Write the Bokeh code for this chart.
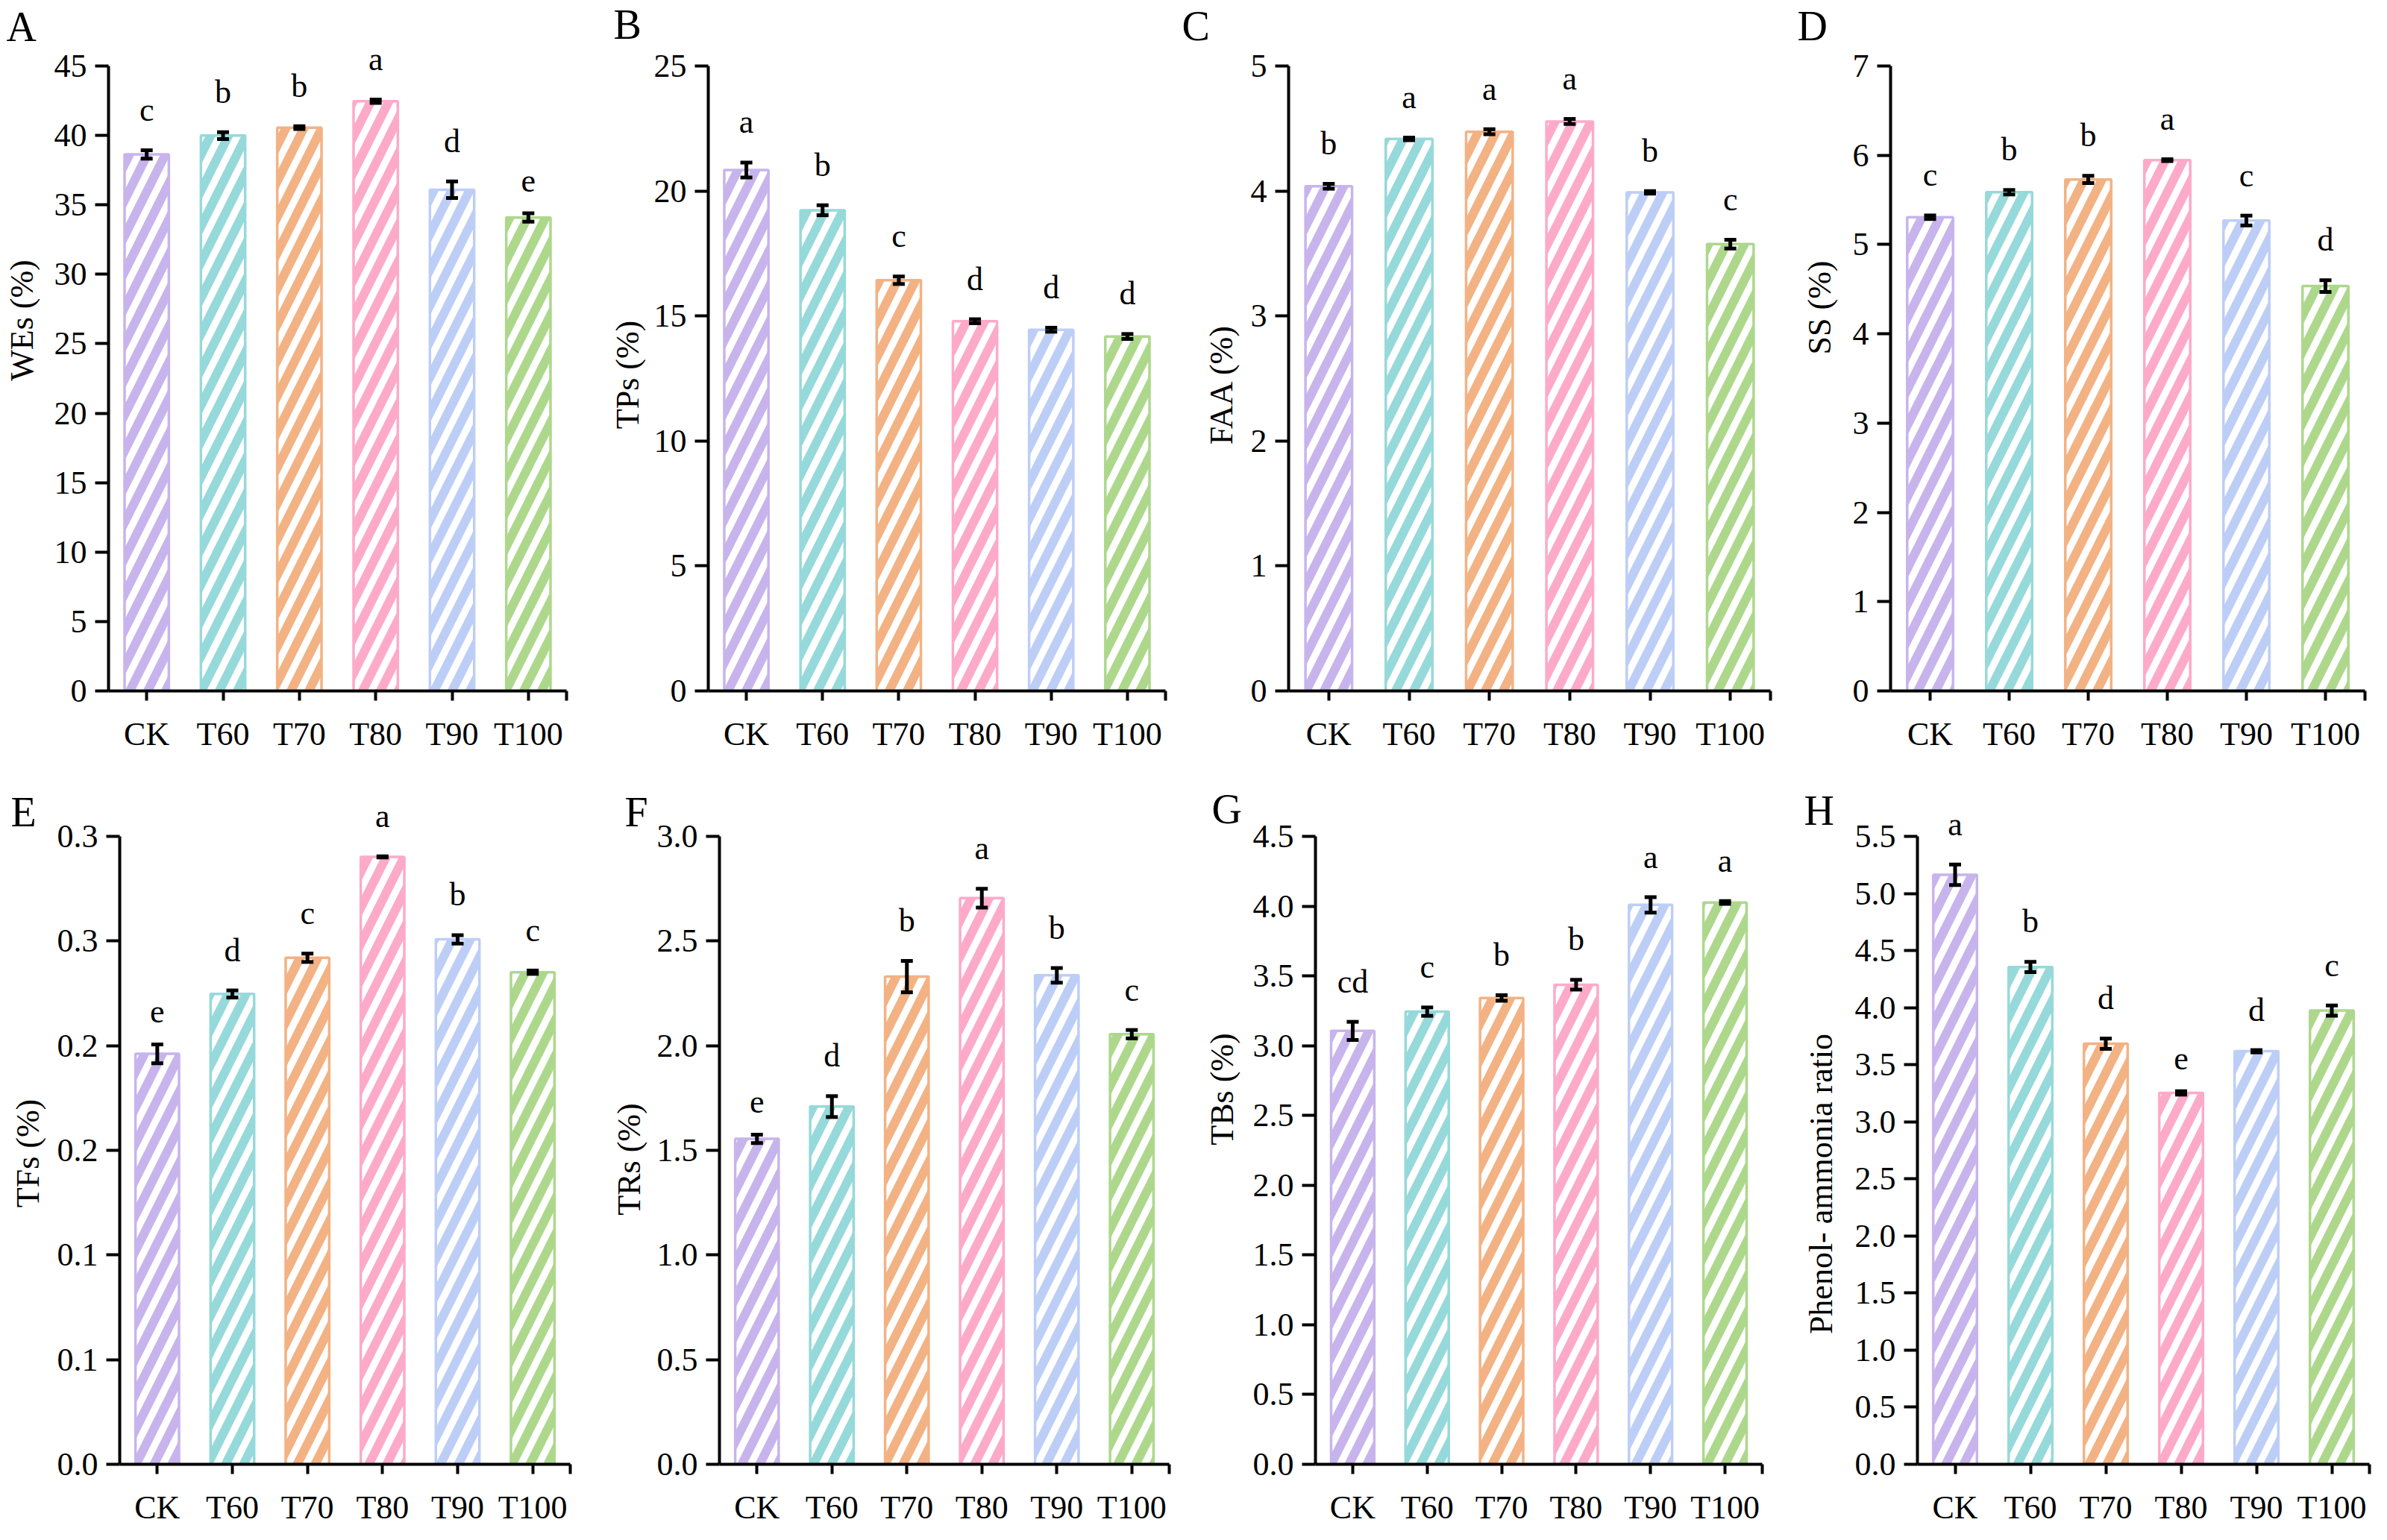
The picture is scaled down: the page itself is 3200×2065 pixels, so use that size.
import math
from bokeh.plotting import figure
from bokeh.layouts import row, column
from bokeh.models import Range1d, FixedTicker, NumeralTickFormatter, ColumnDataSource
from bokeh.embed import file_html
from bokeh.resources import INLINE
from bokeh.core.properties import value

FONT = "Liberation Serif"

# ---------------- data ----------------
categories = ["CK", "T60", "T70", "T80", "T90", "T100"]
colors = ["#C8B4EC", "#96D9DA", "#F3B283", "#FDAAC8", "#BDCEF6", "#ADD88C"]

WEs = [38.63, 39.99, 40.56, 42.46, 36.09, 34.09]
WEs_se = [0.30, 0.25, 0.10, 0.12, 0.60, 0.30]
WEs_sig = ["c", "b", "b", "a", "d", "e"]

TPs = [20.84, 19.23, 16.43, 14.79, 14.45, 14.18]
TPs_se = [0.30, 0.20, 0.15, 0.08, 0.08, 0.10]
TPs_sig = ["a", "b", "c", "d", "d", "d"]

FAA = [4.038, 4.417, 4.474, 4.556, 3.989, 3.575]
FAA_se = [0.020, 0.010, 0.020, 0.020, 0.010, 0.035]
FAA_sig = ["b", "a", "a", "a", "b", "c"]

SS = [5.306, 5.586, 5.729, 5.945, 5.269, 4.535]
SS_se = [0.020, 0.025, 0.040, 0.010, 0.055, 0.065]
SS_sig = ["c", "b", "b", "a", "c", "d"]

TFs = [0.1961, 0.2247, 0.2420, 0.2902, 0.2508, 0.2351]
TFs_se = [0.0045, 0.0017, 0.0020, 0.0003, 0.0020, 0.0008]
TFs_sig = ["e", "d", "c", "a", "b", "c"]

TRs = [1.555, 1.709, 2.330, 2.705, 2.336, 2.055]
TRs_se = [0.020, 0.050, 0.075, 0.045, 0.035, 0.020]
TRs_sig = ["e", "d", "b", "a", "b", "c"]

TBs = [3.106, 3.244, 3.342, 3.437, 4.009, 4.026]
TBs_se = [0.065, 0.030, 0.020, 0.035, 0.055, 0.010]
TBs_sig = ["cd", "c", "b", "b", "a", "a"]

PA = [5.164, 4.356, 3.684, 3.253, 3.618, 3.974]
PA_se = [0.090, 0.045, 0.045, 0.015, 0.010, 0.045]
PA_sig = ["a", "b", "d", "e", "d", "c"]

WEs_ticks = [0, 5, 10, 15, 20, 25, 30, 35, 40, 45]
TPs_ticks = [0, 5, 10, 15, 20, 25]
FAA_ticks = [0, 1, 2, 3, 4, 5]
SS_ticks = [0, 1, 2, 3, 4, 5, 6, 7]
TFs_ticks = [0, 0.05, 0.10, 0.15, 0.20, 0.25, 0.30]
TFs_tick_labels = ["0.0", "0.1", "0.1", "0.2", "0.2", "0.3", "0.3"]
TRs_ticks = [0, 0.5, 1.0, 1.5, 2.0, 2.5, 3.0]
TBs_ticks = [0, 0.5, 1.0, 1.5, 2.0, 2.5, 3.0, 3.5, 4.0, 4.5]
PA_ticks = [0, 0.5, 1.0, 1.5, 2.0, 2.5, 3.0, 3.5, 4.0, 4.5, 5.0, 5.5]

panels = [
    ("A", "WEs (%)", WEs, WEs_se, WEs_sig, WEs_ticks, None, "0"),
    ("B", "TPs (%)", TPs, TPs_se, TPs_sig, TPs_ticks, None, "0"),
    ("C", "FAA (%)", FAA, FAA_se, FAA_sig, FAA_ticks, None, "0"),
    ("D", "SS (%)", SS, SS_se, SS_sig, SS_ticks, None, "0"),
    ("E", "TFs (%)", TFs, TFs_se, TFs_sig, TFs_ticks, TFs_tick_labels, None),
    ("F", "TRs (%)", TRs, TRs_se, TRs_sig, TRs_ticks, None, "0.0"),
    ("G", "TBs (%)", TBs, TBs_se, TBs_sig, TBs_ticks, None, "0.0"),
    ("H", "Phenol- ammonia ratio", PA, PA_se, PA_sig, PA_ticks, None, "0.0"),
]

# ---------------- layout (pixels) ----------------
# width, height, border left, right, top, bottom,
# letter baseline (x, y) and y-label centre (x, y), both relative to frame bottom-left (y up)
geom = [
    (802, 1054, 145, 43, 79, 128, (-137, 872), (-116, 497)),
    (775, 1054, 147, 15, 88, 123, (-127, 875), (-108, 424)),
    (820, 1054, 150, 24, 79, 126, (-143, 873), (-90, 411)),
    (787, 1054, 137, 14, 81, 127, (-125, 873), (-95, 514)),
    (812, 995, 160, 48, 67, 84, (-146, 856), (-123, 417)),
    (790, 995, 152, 35, 67, 86, (-127, 856), (-121, 409)),
    (800, 995, 161, 40, 67, 80, (-139, 860), (-125, 503)),
    (782, 995, 168, 8, 67, 82, (-152, 858), (-129, 376)),
]

FS = 44
LFS = 56
DESC = 0.216  # font descent in em


def make_panel(spec, g):
    letter, ylabel, vals, se, sig, ticks, tick_labels, fmt = spec
    W, H, bl, br, bt, bb, lpos, ypos = g
    n = len(categories)
    ymax = ticks[-1]
    xs = [i + 0.5 for i in range(n)]
    p = figure(width=W, height=H, output_backend="svg", toolbar_location=None,
               x_range=Range1d(0, n), y_range=Range1d(0, ymax),
               min_border_left=bl, min_border_right=br, min_border_top=bt, min_border_bottom=bb,
               tools="")
    p.outline_line_color = None
    p.grid.visible = False
    p.background_fill_color = "white"
    p.border_fill_color = "white"

    src = ColumnDataSource(dict(x=xs, top=vals, color=colors,
                                lo=[v - s for v, s in zip(vals, se)],
                                hi=[v + s for v, s in zip(vals, se)],
                                sig=sig))
    p.vbar(x="x", top="top", bottom=0, width=0.58, source=src,
           fill_color="white", line_color="color", line_width=3.5,
           hatch_pattern="/", hatch_color="color", hatch_scale=48, hatch_weight=12)
    p.segment(x0="x", y0="lo", x1="x", y1="hi", source=src, line_color="black", line_width=5)
    p.scatter(x="x", y="lo", source=src, marker="dash", size=16, line_color="black", line_width=5)
    p.scatter(x="x", y="hi", source=src, marker="dash", size=16, line_color="black", line_width=5)
    t = p.text(x="x", y="hi", text="sig", source=src, text_align="center", text_baseline="bottom",
               y_offset=-(20 + DESC * FS), text_font=value(FONT), text_font_size=f"{FS}px",
               text_color="black")
    t.level = "overlay"

    # panel letter and y label, anchored at the frame corner with pixel offsets
    lt = p.text(x=[0], y=[0], text=[letter], x_offset=lpos[0], y_offset=-(lpos[1] - DESC * LFS),
                text_align="left", text_baseline="bottom", text_font=value(FONT),
                text_font_size=f"{LFS}px", text_color="black")
    lt.level = "overlay"
    yl = p.text(x=[0], y=[0], text=[ylabel], x_offset=ypos[0], y_offset=-ypos[1], angle=math.pi / 2,
                text_align="center", text_baseline="middle", text_font=value(FONT),
                text_font_size=f"{FS}px", text_color="black")
    yl.level = "overlay"

    # axes
    xa = p.xaxis[0]
    xa.ticker = FixedTicker(ticks=xs + [n])
    xa.major_label_overrides = {**{x: c for x, c in zip(xs, categories)}, n: ""}
    ya = p.yaxis[0]
    ya.ticker = FixedTicker(ticks=ticks)
    if tick_labels is not None:
        ya.major_label_overrides = {t_: l for t_, l in zip(ticks, tick_labels)}
    else:
        ya.formatter = NumeralTickFormatter(format=fmt)
    for ax in (xa, ya):
        ax.axis_line_width = 4
        ax.axis_line_color = "black"
        ax.major_tick_line_width = 4
        ax.major_tick_line_color = "black"
        ax.minor_tick_line_color = None
        ax.major_tick_in = 0
        ax.major_label_text_font = FONT
        ax.major_label_text_font_size = f"{FS}px"
        ax.major_label_text_color = "black"
    xa.major_tick_out = 13
    xa.major_label_standoff = 20
    ya.major_tick_out = 18
    ya.major_label_standoff = 11
    return p


figs = [make_panel(s, g) for s, g in zip(panels, geom)]
layout = column(row(*figs[:4]), row(*figs[4:]))

open("out.html", "w").write(file_html(layout, INLINE))
